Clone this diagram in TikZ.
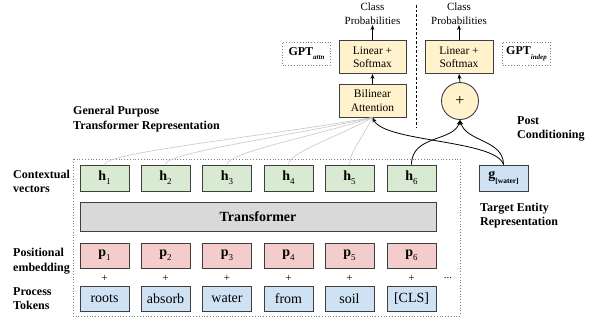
\documentclass[tikz,border=0pt]{standalone}
\usepackage{fontspec}
\setmainfont{Liberation Serif}
\usetikzlibrary{arrows.meta,calc}
\definecolor{bordc}{HTML}{3F3F3F}
\definecolor{hgreen}{HTML}{D9EAD3}
\definecolor{pred}{HTML}{F4CCCC}
\definecolor{tblue}{HTML}{CFE2F3}
\definecolor{tgray}{HTML}{D9D9D9}
\definecolor{yel}{HTML}{FFF2CC}
\newcommand\lowsub[1]{\raisebox{-0.3em}{\fontsize{9}{9}\selectfont #1}}
\begin{document}
\begin{tikzpicture}[x=1pt,y=-1pt,
  base/.style={draw=bordc, line width=0.9pt, inner sep=0pt},
  hbox/.style={base, fill=hgreen, minimum width=49pt, minimum height=26pt, font=\fontsize{14}{16}\selectfont},
  pbox/.style={base, fill=pred, minimum width=49pt, minimum height=25pt, font=\fontsize{14}{16}\selectfont},
  tbox/.style={base, fill=tblue, minimum width=49pt, minimum height=25pt, font=\fontsize{14}{16}\selectfont},
  ybox/.style={base, fill=yel, minimum width=67pt, minimum height=33pt, align=center, font=\fontsize{11.5}{13.5}\selectfont},
  lbl/.style={align=left, anchor=west, font=\bfseries\fontsize{12}{14.5}\selectfont, inner sep=0pt},
  toptxt/.style={align=center, font=\fontsize{11}{14}\selectfont, inner sep=0pt},
  gptbox/.style={draw=gray, dotted, line width=0.8pt, minimum width=48pt, minimum height=23pt, inner sep=0pt, font=\fontsize{12}{14}\selectfont},
  gline/.style={draw=gray!45, line width=0.6pt},
  arr/.style={-{Stealth[length=5pt,width=4pt]}, line width=0.8pt, black},
  plussign/.style={font=\fontsize{11}{11}\selectfont, inner sep=0pt}
]
\useasboundingbox (0,0) rectangle (592,322);
% big dotted frame
\draw[gray, dotted, line width=0.8pt] (73,159) rectangle (460,316);
% rows
\foreach \i/\x/\w in {1/104.5/roots,2/165.5/absorb,3/227/water,4/288.5/from,5/349.5/soil,6/411.5/[CLS]}{
  \node[hbox] (h\i) at (\x,178) {\textbf{h}\lowsub{\i}};
  \node[pbox] (p\i) at (\x,255.5) {\textbf{p}\lowsub{\i}};
  \node[plussign] (plus\i) at (\x,278) {+};
  \node[tbox] (t\i) at (\x,298.5) {\w};
}
\node[base, fill=tgray, minimum width=356pt, minimum height=29pt, font=\bfseries\fontsize{14}{16}\selectfont] (tf) at (258,216.5) {Transformer};
\node[plussign] (dots) at (448,278) {...};
\node[base, fill=tblue, minimum width=49pt, minimum height=26pt, font=\fontsize{14}{16}\selectfont] (g) at (503.5,178) {\textbf{g}\raisebox{-0.35em}{\bfseries\fontsize{7.5}{8}\selectfont [water]}};
% labels
\node[lbl] (l1) at (13,181.5) {Contextual\\vectors};
\node[lbl] (l2) at (13,261) {Positional\\embedding};
\node[lbl] (l3) at (13,298.5) {Process\\Tokens};
\node[lbl] (l4) at (73,119) {General Purpose\\Transformer Representation};
\node[lbl] (l5) at (517,129) {Post\\Conditioning};
\node[lbl] (l6) at (480,215.5) {Target Entity\\Representation};
% top left
\node[toptxt] (cp1) at (372.5,14) {Class\\Probabilities};
\node[ybox] (lin1) at (372.5,57) {Linear +\\Softmax};
\node[ybox] (bil) at (372.5,100.5) {Bilinear\\Attention};
\node[gptbox] (gpta) at (306.5,53.5) {\textbf{GPT}\raisebox{-0.4em}{\bfseries\itshape\fontsize{7}{8}\selectfont attn}};
% top right
\node[toptxt] (cp2) at (459,14) {Class\\Probabilities};
\node[ybox, minimum width=68pt] (lin2) at (459,57) {Linear +\\Softmax};
\node[base, circle, fill=yel, minimum size=37pt, font=\fontsize{16}{16}\selectfont] (plus) at (460,101) {+};
\node[gptbox] (gpti) at (526.5,53.5) {\textbf{GPT}\raisebox{-0.4em}{\bfseries\itshape\fontsize{7}{8}\selectfont indep}};
% dashed separator
\draw[black, line width=0.8pt, dash pattern=on 2.5pt off 2pt] (416,5) -- (416,128);
% arrows
\draw[arr] (lin1.north) -- (cp1.south);
\draw[arr] (bil.north) -- (lin1.south);
\draw[arr] (lin2.north) -- (cp2.south);
\draw[arr] (plus.north) -- (lin2.south);
% gray attention lines
\foreach \i in {1,...,5}{
  \draw[gline] (h\i.north) .. controls +(0,-12) and ($(bil.south)!0.4!(h\i.north)$) .. (bil.south);
}
% black connections
\draw[arr] (g.north) .. controls +(-8,-25) and +(12,25) .. (bil.south);
\draw[arr] (h6.north) .. controls +(0,-30) and +(-6,22) .. (plus.south);
\draw[arr] (g.north) .. controls +(0,-25) and +(6,22) .. (plus.south);
\end{tikzpicture}
\end{document}
